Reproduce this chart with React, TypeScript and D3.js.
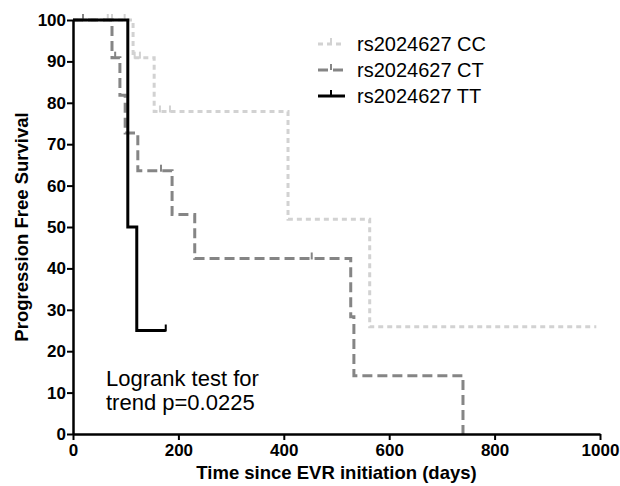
import React, { useRef, useEffect } from "react";
import * as d3 from "d3";

// Kaplan-Meier steps (days, % progression free)
const ccTimes = [0, 114, 154, 408, 563, 993];
const ccSurv = [100, 90.9, 77.9, 51.9, 25.9, 25.9];
const ccCensorT = [66, 74, 98, 117, 127, 165, 184];
const ccCensorS = [100, 100, 100, 90.9, 90.9, 77.9, 77.9];

const ctTimes = [0, 74, 89, 99, 123, 188, 231, 527, 533, 740];
const ctSurv = [100, 90.9, 81.8, 72.7, 63.6, 53.0, 42.4, 28.3, 14.1, 0];
const ctCensorT = [19, 80, 167, 453];
const ctCensorS = [100, 90.9, 63.6, 42.4];

const ttTimes = [0, 104, 121, 176];
const ttSurv = [100, 50, 25, 25];
const ttCensorT = [176];
const ttCensorS = [25];

const groupNames = ["rs2024627 CC", "rs2024627 CT", "rs2024627 TT"];
const xTicks = [0, 200, 400, 600, 800, 1000];
const yTicks = [0, 10, 20, 30, 40, 50, 60, 70, 80, 90, 100];

const App = () => {
  const ref = useRef<SVGSVGElement>(null);

  useEffect(() => {
    const W = 620;
    const H = 486;
    const margin = { top: 20, right: 20, bottom: 52, left: 73 };

    const svg = d3.select(ref.current);
    svg.selectAll("*").remove();

    const x = d3
      .scaleLinear()
      .domain([0, 1000])
      .range([margin.left, W - margin.right]);
    const y = d3
      .scaleLinear()
      .domain([0, 100])
      .range([H - margin.bottom, margin.top]);

    const groups = [
      { t: ccTimes, s: ccSurv, ct: ccCensorT, cs: ccCensorS, color: "#d2d2d2", dash: "5,4", width: 3 },
      { t: ctTimes, s: ctSurv, ct: ctCensorT, cs: ctCensorS, color: "#858585", dash: "10,5", width: 3 },
      { t: ttTimes, s: ttSurv, ct: ttCensorT, cs: ttCensorS, color: "#000", dash: null, width: 3 },
    ];

    const line = d3
      .line<[number, number]>()
      .x((d) => x(d[0]))
      .y((d) => y(d[1]))
      .curve(d3.curveStepAfter);

    groups.forEach((g) => {
      const pts = g.t.map((t, i) => [t, g.s[i]] as [number, number]);
      svg
        .append("path")
        .attr("d", line(pts))
        .attr("fill", "none")
        .attr("stroke", g.color)
        .attr("stroke-width", g.width)
        .attr("stroke-dasharray", g.dash);

      // censor marks
      svg
        .selectAll(null)
        .data(g.ct.map((t, i) => [t, g.cs[i]]))
        .enter()
        .append("line")
        .attr("x1", (d) => x(d[0]))
        .attr("x2", (d) => x(d[0]))
        .attr("y1", (d) => y(d[1]) - 6)
        .attr("y2", (d) => y(d[1]) + 1)
        .attr("stroke", g.color)
        .attr("stroke-width", 2);
    });

    // axes
    const font = "Liberation Sans, Arial, sans-serif";
    const xAxis = svg
      .append("g")
      .attr("transform", `translate(0,${H - margin.bottom})`)
      .call(
        d3
          .axisBottom(x)
          .tickValues(xTicks)
          .tickFormat(d3.format("d"))
          .tickSize(6)
          .tickSizeOuter(0)
          .tickPadding(4)
      );
    const yAxis = svg
      .append("g")
      .attr("transform", `translate(${margin.left},0)`)
      .call(d3.axisLeft(y).tickValues(yTicks).tickSize(6).tickSizeOuter(0).tickPadding(1));

    [xAxis, yAxis].forEach((a) => {
      a.select(".domain").attr("stroke", "#000").attr("stroke-width", 2.5);
      a.selectAll(".tick line").attr("stroke", "#000").attr("stroke-width", 2);
      a.selectAll(".tick text")
        .attr("fill", "#000")
        .attr("font-family", font)
        .attr("font-weight", "bold")
        .attr("font-size", 17);
    });

    svg
      .append("text")
      .attr("x", x(500))
      .attr("y", 479)
      .attr("text-anchor", "middle")
      .attr("font-family", font)
      .attr("font-weight", "bold")
      .attr("font-size", 18.5)
      .text("Time since EVR initiation (days)");

    svg
      .append("text")
      .attr("transform", `translate(28,${y(50)}) rotate(-90)`)
      .attr("text-anchor", "middle")
      .attr("font-family", font)
      .attr("font-weight", "bold")
      .attr("font-size", 18.5)
      .text("Progression Free Survival");

    // legend
    const legend = svg.append("g");
    groups.forEach((g, i) => {
      const ly = 44 + i * 26;
      legend
        .append("line")
        .attr("x1", 318)
        .attr("x2", 345)
        .attr("y1", ly)
        .attr("y2", ly)
        .attr("stroke", g.color)
        .attr("stroke-width", g.width)
        .attr("stroke-dasharray", g.dash);
      legend
        .append("line")
        .attr("x1", 331)
        .attr("x2", 331)
        .attr("y1", ly - 6)
        .attr("y2", ly)
        .attr("stroke", g.color)
        .attr("stroke-width", 2);
      legend
        .append("text")
        .attr("x", 357)
        .attr("y", ly + 7)
        .attr("font-family", font)
        .attr("font-size", 20)
        .text(groupNames[i]);
    });

    // annotation
    const note = svg
      .append("text")
      .attr("font-family", font)
      .attr("font-size", 22)
      .attr("fill", "#000");
    note.append("tspan").attr("x", 106).attr("y", 386).text("Logrank test for");
    note.append("tspan").attr("x", 106).attr("y", 410).text("trend p=0.0225");
  }, []);

  return (
    <svg
      ref={ref}
      width={620}
      height={486}
      style={{ position: "absolute", left: 0, top: 0, background: "#fff" }}
    />
  );
};

export default App;
